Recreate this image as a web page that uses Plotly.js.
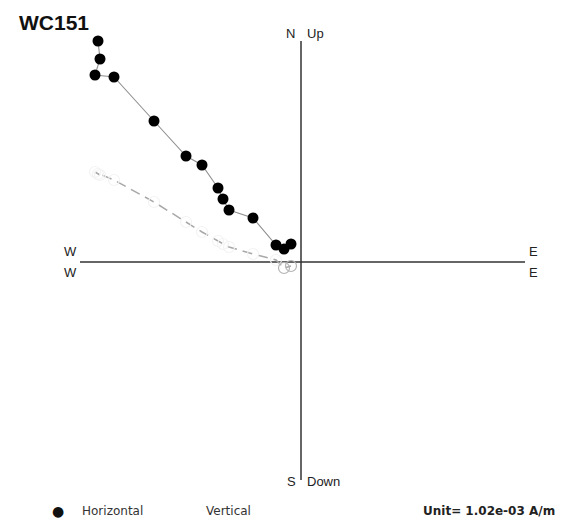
<!DOCTYPE html>
<html>
<head>
<meta charset="utf-8">
<script src="https://cdn.plot.ly/plotly-3.0.1.min.js"></script>
<style>html,body{margin:0;padding:0;background:#fff;}#chart{width:570px;height:522px;}</style>
</head>
<body>
<div id="chart"></div>
<script>
// Demagnetization steps, in units of 1.02e-03 A/m (scaled)
var specimen = "WC151";
var unitLabel = "Unit= 1.02e-03 A/m";
var east  = [-1.015, -1.005, -1.03, -0.935, -0.735, -0.575, -0.495, -0.415, -0.39, -0.36, -0.24, -0.125, -0.085, -0.05];
var north = [1.105, 1.015, 0.935, 0.925, 0.705, 0.53, 0.485, 0.37, 0.315, 0.26, 0.22, 0.085, 0.065, 0.09];
var up    = [0.44, 0.435, 0.45, 0.41, 0.30, 0.20, 0.15, 0.105, 0.09, 0.075, 0.04, 0.01, -0.03, -0.02];
var legendNames = ["Horizontal", "Vertical"];

// pixel helpers for paper placement (plot area: l=61, t=22, 480x480)
function px(x){ return (x-61)/480; }
function py(y){ return (502-y)/480; }

var vColors = up.map(function(v,i){ return i >= up.length-2 ? '#b4b4b4' : '#f3f3f3'; });

var traces = [
  {x: east, y: up, mode: 'lines', type: 'scatter', showlegend: false, hoverinfo: 'skip',
   line: {color: '#a8a8a8', width: 1.5, dash: '10px,6px'}},
  {x: east, y: up, mode: 'markers', type: 'scatter', name: legendNames[1], showlegend: false,
   marker: {symbol: 'circle', size: 11, color: 'rgba(255,255,255,0)', line: {color: vColors, width: 1.2}}},
  {x: east, y: north, mode: 'lines+markers', type: 'scatter', name: legendNames[0], showlegend: false,
   line: {color: '#909090', width: 1.1},
   marker: {symbol: 'circle', size: 11, color: '#000'}}
];

var lblFont = {family: 'Liberation Sans, Arial, sans-serif', size: 13, color: '#222'};
var legFont = {family: 'DejaVu Sans, sans-serif', size: 12, color: '#333'};
var annotations = [
  {xref:'paper', yref:'paper', x: px(17), y: py(22), xanchor:'left', yanchor:'middle', showarrow:false,
   text: '<b>' + specimen + '</b>', font:{family:'Liberation Sans, Arial, sans-serif', size:21, color:'#111'}},
  {xref:'x', yref:'y', x:-1.155, y:0.055, text:'W', showarrow:false, font:lblFont},
  {xref:'x', yref:'y', x:-1.155, y:-0.05, text:'W', showarrow:false, font:lblFont},
  {xref:'x', yref:'y', x:1.16, y:0.055, text:'E', showarrow:false, font:lblFont},
  {xref:'x', yref:'y', x:1.16, y:-0.05, text:'E', showarrow:false, font:lblFont},
  {xref:'x', yref:'y', x:-0.02, y:1.145, xanchor:'right', text:'N', showarrow:false, font:lblFont},
  {xref:'x', yref:'y', x:0.02, y:1.145, xanchor:'left', text:'Up', showarrow:false, font:lblFont},
  {xref:'x', yref:'y', x:-0.015, y:-1.095, xanchor:'right', text:'S', showarrow:false, font:lblFont},
  {xref:'x', yref:'y', x:0.02, y:-1.095, xanchor:'left', text:'Down', showarrow:false, font:lblFont},
  {xref:'paper', yref:'paper', x: px(58), y: py(511), xanchor:'center', yanchor:'middle', showarrow:false,
   text:'●', font:{family:'DejaVu Sans, sans-serif', size:14, color:'#111'}},
  {xref:'paper', yref:'paper', x: px(80), y: py(511), xanchor:'left', yanchor:'middle', showarrow:false,
   text: legendNames[0], font:legFont},
  {xref:'paper', yref:'paper', x: px(204), y: py(511), xanchor:'left', yanchor:'middle', showarrow:false,
   text: legendNames[1], font:legFont},
  {xref:'paper', yref:'paper', x: px(557), y: py(511), xanchor:'right', yanchor:'middle', showarrow:false,
   text: '<b>' + unitLabel + '</b>', font:{family:'DejaVu Sans, sans-serif', size:12, color:'#222'}}
];

var shapes = [
  {type:'line', xref:'x', yref:'y', x0:-1.105, x1:1.12, y0:0, y1:0, line:{color:'#333', width:1.5}, layer:'below'},
  {type:'line', xref:'x', yref:'y', x0:0, x1:0, y0:1.105, y1:-1.09, line:{color:'#333', width:1.5}, layer:'below'}
];

var layout = {
  width: 570, height: 522,
  margin: {l: 61, r: 29, t: 22, b: 20, pad: 0},
  paper_bgcolor: '#fff', plot_bgcolor: '#fff',
  showlegend: false,
  xaxis: {range: [-1.2, 1.2], visible: false, fixedrange: true},
  yaxis: {range: [-1.2, 1.2], visible: false, fixedrange: true},
  annotations: annotations,
  shapes: shapes
};

Plotly.newPlot('chart', traces, layout, {displayModeBar: false, staticPlot: true});
</script>
</body>
</html>
